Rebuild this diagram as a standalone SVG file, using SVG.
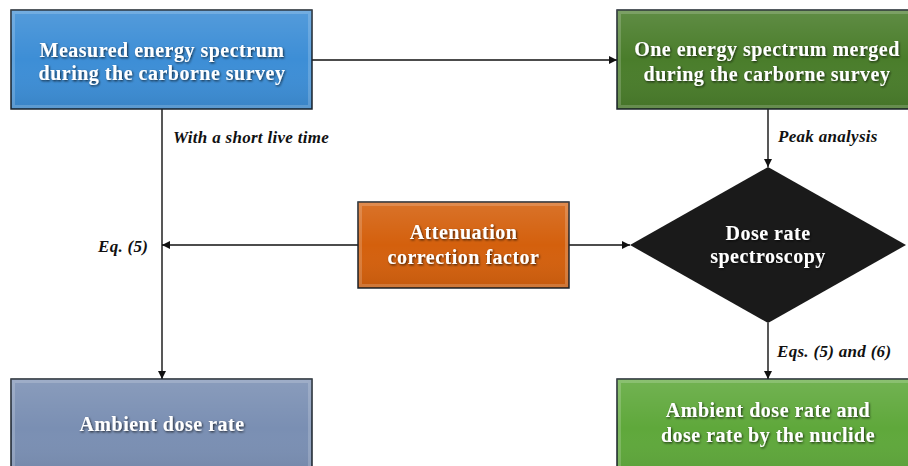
<svg xmlns="http://www.w3.org/2000/svg" width="908" height="466" viewBox="0 0 908 466">
<style>
.box{stroke:#1c252c;stroke-width:1.5}
.bev{fill:none;stroke:#ffffff;stroke-opacity:0.18;stroke-width:3}
.t{font-family:"Liberation Serif","Times New Roman",serif;font-weight:bold;font-size:20px;letter-spacing:0.5px;fill:#ffffff;text-anchor:middle;filter:url(#sh)}
.lbl{font-family:"Liberation Serif","Times New Roman",serif;font-weight:bold;font-style:italic;font-size:17px;letter-spacing:0.3px;fill:#111111}
.c{fill:none;stroke:#111111;stroke-width:1.4}
</style>
<defs>
<marker id="ah" viewBox="0 0 10 10" refX="10" refY="5" markerWidth="8" markerHeight="8" markerUnits="userSpaceOnUse" orient="auto">
<path d="M0,0 L10,5 L0,10 z" fill="#111111"/>
</marker>
<filter id="sh" x="-10%" y="-30%" width="120%" height="160%">
<feDropShadow dx="1" dy="1.2" stdDeviation="0.8" flood-color="#000000" flood-opacity="0.7"/>
</filter>
<linearGradient id="gl" x1="0" y1="0" x2="0" y2="1">
<stop offset="0" stop-color="#ffffff" stop-opacity="0.12"/>
<stop offset="0.5" stop-color="#ffffff" stop-opacity="0"/>
<stop offset="1" stop-color="#000000" stop-opacity="0.08"/>
</linearGradient>
</defs>
<rect width="908" height="466" fill="#ffffff"/>
<g id="connectors">
<line class="c" x1="312" y1="60" x2="617" y2="60" marker-end="url(#ah)"/>
<line class="c" x1="162" y1="109" x2="162" y2="379" marker-end="url(#ah)"/>
<line class="c" x1="358" y1="245" x2="162" y2="245" marker-end="url(#ah)"/>
<line class="c" x1="569" y1="245" x2="630" y2="245" marker-end="url(#ah)"/>
<line class="c" x1="768" y1="109" x2="768" y2="167" marker-end="url(#ah)"/>
<line class="c" x1="768" y1="323" x2="768" y2="379" marker-end="url(#ah)"/>
<text class="lbl" x="173" y="143">With a short live time</text>
<text class="lbl" x="778" y="142">Peak analysis</text>
<text class="lbl" x="98" y="252">Eq. (5)</text>
<text class="lbl" x="777" y="357">Eqs. (5) and (6)</text>
</g>
<g id="measured">
<rect class="box" x="11" y="10" width="301" height="99" fill="#3d8ed6"/>
<rect x="11" y="10" width="301" height="99" fill="url(#gl)"/>
<rect class="bev" x="13.5" y="12.5" width="296" height="94"/>
<text class="t" x="162" y="57">Measured energy spectrum</text>
<text class="t" x="162" y="80">during the carborne survey</text>
</g>
<g id="merged">
<rect class="box" x="617" y="10" width="301" height="99" fill="#4a7d2b"/>
<rect x="617" y="10" width="301" height="99" fill="url(#gl)"/>
<rect class="bev" x="619.5" y="12.5" width="296" height="94"/>
<text class="t" x="767" y="56">One energy spectrum merged</text>
<text class="t" x="767" y="81">during the carborne survey</text>
</g>
<g id="attenuation">
<rect class="box" x="358" y="202" width="211" height="86" fill="#d4600d"/>
<rect x="358" y="202" width="211" height="86" fill="url(#gl)"/>
<rect class="bev" x="360.5" y="204.5" width="206" height="81"/>
<text class="t" x="463.5" y="239">Attenuation</text>
<text class="t" x="463.5" y="264">correction factor</text>
</g>
<g id="spectroscopy">
<polygon points="768,167 906,245 768,323 630,245" fill="#1a1a1a"/>
<text class="t" x="768" y="240">Dose rate</text>
<text class="t" x="768" y="263">spectroscopy</text>
</g>
<g id="ambient">
<rect class="box" x="11" y="379" width="301" height="99" fill="#7a8fb3"/>
<rect x="11" y="379" width="301" height="99" fill="url(#gl)"/>
<rect class="bev" x="13.5" y="381.5" width="296" height="94"/>
<text class="t" x="162" y="431">Ambient dose rate</text>
</g>
<g id="nuclide">
<rect class="box" x="617" y="379" width="301" height="99" fill="#5fa83b"/>
<rect x="617" y="379" width="301" height="99" fill="url(#gl)"/>
<rect class="bev" x="619.5" y="381.5" width="296" height="94"/>
<text class="t" x="768" y="417">Ambient dose rate and</text>
<text class="t" x="768" y="442">dose rate by the nuclide</text>
</g>
</svg>
